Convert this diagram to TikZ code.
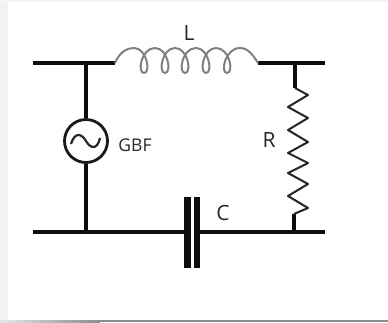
\documentclass[tikz,border=0pt]{standalone}
\usepackage{fontspec}
\setmainfont{Open Sans}
\usepackage{tikz}
\usetikzlibrary{positioning}

\begin{document}
\begin{tikzpicture}[
    x=1pt, y=-1pt,
    wire/.style={
        line width=3.2pt,
        black!95
    },
    source/.style={
        circle,
        draw=black!90,
        line width=2.8pt,
        fill=white,
        minimum size=43pt,
        inner sep=0pt
    },
    plate/.style={
        rectangle,
        fill=black!95,
        minimum width=6.5pt,
        minimum height=71pt,
        inner sep=0pt
    },
    coillabel/.style={
        font=\fontsize{21}{24}\selectfont,
        text=black!85,
        inner sep=0pt
    },
    gbflabel/.style={
        font=\fontsize{17.5}{20}\selectfont,
        text=black!85,
        inner sep=0pt
    }
]
    \useasboundingbox (0,0) rectangle (388,322);

    % Fondo
    \fill[white] (0,0) rectangle (388,322);
    \fill[black!5] (0,0) rectangle (8,320);
    \fill[black!4] (0,0) rectangle (388,2);
    \shade[left color=black!10, right color=black!45] (0,320) rectangle (100,322);
    \fill[black!45] (100,320) rectangle (388,322);

    \coordinate (topleft) at (33,63);
    \coordinate (topright) at (325,63);
    \coordinate (botleft) at (33,232);
    \coordinate (botright) at (325,232);
    \coordinate (coilin) at (115,63);
    \coordinate (coilout) at (258,63);
    \coordinate (juncleft) at (86,63);
    \coordinate (juncbot) at (86,232);
    \coordinate (juncright) at (295,63);
    \coordinate (resin) at (295,88);
    \coordinate (resout) at (294,214);
    \coordinate (juncres) at (294,232);

    \node (gbf) [source] at (86,141) {};
    \node (platea) [plate] at (187.5,232) {};
    \node (plateb) [plate] at (197,232) {};

    \node (labell) [coillabel] at (189,33) {L};
    \node (labelgbf) [gbflabel] at (135,145) {GBF};
    \node (labelr) [coillabel] at (269,140) {R};
    \node (labelc) [coillabel] at (223,213) {C};

    % Conexiones
    \draw [wire] (topleft) -- (coilin);
    \draw [wire] (coilout) -- (topright);
    \draw [wire] (juncleft) -- (gbf);
    \draw [wire] (gbf) -- (juncbot);
    \draw [wire] (botleft) -- (platea);
    \draw [wire] (plateb) -- (botright);
    \draw [wire] (juncright) -- (resin);
    \draw [wire] (resout) -- (juncres);

    % Bobina
    \draw [black!50, line width=2pt] (coilin)
        .. controls (120,51) and (128,48) .. (134,48)
        .. controls (147,48) and (151,73) .. (144,73)
        .. controls (137,73) and (141,48) .. (155,48)
        .. controls (168,48) and (172,73) .. (165,73)
        .. controls (158,73) and (162,48) .. (175,48)
        .. controls (188,48) and (192,73) .. (185,73)
        .. controls (178,73) and (182,48) .. (196,48)
        .. controls (209,48) and (213,73) .. (206,73)
        .. controls (199,73) and (203,48) .. (216,48)
        .. controls (230,48) and (234,73) .. (227,73)
        .. controls (220,73) and (225,48) .. (240,48)
        .. controls (248,48) and (253,55) .. (coilout);

    % Resistencia
    \draw [black!85, line width=2pt, line join=round] (resin)
        -- (308,95) -- (288,107) -- (308,118) -- (288,130)
        -- (308,142) -- (288,153) -- (308,163) -- (288,173)
        -- (308,184) -- (288,196) -- (308,208) -- (resout);

    % Seno del generador
    \draw [black!85, line width=2.2pt] (71,144)
        .. controls (75,131) and (82,134) .. (86,141)
        .. controls (90,148) and (97,151) .. (100,138);
\end{tikzpicture}
\end{document}
